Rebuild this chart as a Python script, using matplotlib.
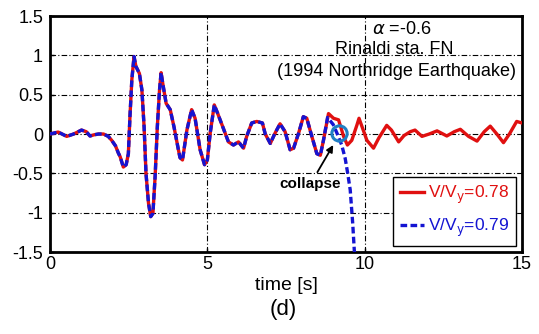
import matplotlib
matplotlib.use("Agg")
import matplotlib.pyplot as plt

plt.rcParams['font.family'] = ['Liberation Sans', 'DejaVu Sans']
plt.rcParams['mathtext.fontset'] = 'dejavusans'

# common part (both responses identical until ~8.7 s)
t_common = [0.0, 0.26, 0.53, 0.75, 1.0, 1.15, 1.27, 1.4, 1.54, 1.7, 1.85, 1.96, 2.08, 2.17,
            2.23, 2.33, 2.42, 2.49, 2.54, 2.60, 2.67, 2.73, 2.84, 2.92, 2.99, 3.05, 3.13,
            3.20, 3.27, 3.34, 3.41, 3.48, 3.53, 3.58, 3.69, 3.82, 3.94, 4.08, 4.13, 4.21,
            4.35, 4.5, 4.61, 4.77, 4.91, 5.0, 5.09, 5.22, 5.33, 5.51, 5.67, 5.83, 5.99,
            6.15, 6.25, 6.41, 6.57, 6.75, 6.84, 7.0, 7.15, 7.31, 7.47, 7.63, 7.74, 7.9,
            8.05, 8.16, 8.32, 8.48, 8.59, 8.69]
v_common = [0.0, 0.025, -0.03, 0.0, 0.05, 0.03, -0.025, -0.01, 0.0, 0.0, -0.03, -0.08, -0.15, -0.24,
            -0.29, -0.42, -0.39, -0.25, 0.22, 0.69, 0.985, 0.86, 0.77, 0.56, 0.09, -0.5, -0.88,
            -1.05, -1.01, -0.54, 0.09, 0.56, 0.78, 0.65, 0.39, 0.31, 0.09, -0.2, -0.3, -0.33,
            0.05, 0.31, 0.2, -0.2, -0.39, -0.33, 0.01, 0.37, 0.26, 0.07, -0.1, -0.14, -0.1,
            -0.18, -0.03, 0.14, 0.16, 0.14, 0.0, -0.12, 0.01, 0.13, 0.03, -0.2, -0.18, 0.01,
            0.22, 0.2, -0.03, -0.25, -0.27, -0.08]

# V/Vy = 0.78 (survives)
t_red = t_common + [8.85, 9.01, 9.17, 9.33, 9.45, 9.59, 9.75, 9.82, 10.07, 10.28, 10.45, 10.7,
                    10.85, 11.08, 11.25, 11.45, 11.6, 11.82, 12.05, 12.3, 12.61, 12.85, 13.04,
                    13.3, 13.57, 13.8, 13.99, 14.2, 14.41, 14.6, 14.83, 15.0]
v_red = v_common + [0.26, 0.2, 0.18, -0.03, -0.14, -0.08, 0.11, 0.2, -0.08, -0.18, -0.05, 0.11,
                    0.05, -0.1, -0.02, 0.03, 0.05, -0.03, 0.0, 0.04, -0.025, 0.03, 0.06,
                    -0.03, -0.09, 0.03, 0.1, 0.0, -0.11, 0.0, 0.16, 0.14]

# V/Vy = 0.79 (collapses)
t_blue = t_common + [8.82, 9.0, 9.12, 9.27, 9.38, 9.46, 9.54, 9.62, 9.67, 9.7]
v_blue = v_common + [0.21, 0.12, 0.01, -0.14, -0.31, -0.5, -0.71, -1.14, -1.48, -1.6]

collapse_t, collapse_v = 9.17, 0.01
xticks = [0, 5, 10, 15]
yticks = [-1.5, -1, -0.5, 0, 0.5, 1, 1.5]
yticklabels = ['-1.5', '-1', '-0.5', '0', '0.5', '1', '1.5']

fig = plt.figure(figsize=(5.39, 3.34), dpi=100)
ax = fig.add_axes([0.0928, 0.2455, 0.8757, 0.7065])

red = '#e01010'
blue = '#1414d2'
ax.plot(t_red, v_red, color=red, lw=2.4, solid_joinstyle='round', label=r'V/V$_{\mathrm{y}}$=0.78', zorder=3)
ax.plot(t_blue, v_blue, color=blue, lw=2.4, dashes=(2.0, 1.0), label=r'V/V$_{\mathrm{y}}$=0.79', zorder=4)

ax.plot([collapse_t], [collapse_v], marker='o', ms=11, mfc='none', mec='#1f7fc4', mew=2.2, zorder=5)
ax.annotate('collapse', xy=(9.0, -0.14), xytext=(8.27, -0.64), ha='center', va='center',
            fontsize=11, fontweight='bold',
            arrowprops=dict(arrowstyle='-|>', color='black', lw=1.3, mutation_scale=10,
                            shrinkA=2, shrinkB=0))

ax.text(11.18, 1.33, r'$\alpha$ =-0.6', ha='center', va='center', fontsize=13)
ax.text(10.95, 1.07, 'Rinaldi sta. FN', ha='center', va='center', fontsize=13)
ax.text(11.0, 0.80, '(1994 Northridge Earthquake)', ha='center', va='center', fontsize=13)

ax.set_xlim(0, 15)
ax.set_ylim(-1.5, 1.5)
ax.set_xticks(xticks)
ax.set_yticks(yticks)
ax.set_yticklabels(yticklabels)
ax.tick_params(direction='in', length=3, width=1, labelsize=13, pad=5)
ax.tick_params(axis='x', pad=3)
ax.grid(True, color='black', lw=0.8, linestyle=(0, (5, 2, 1, 2)))
for s in ax.spines.values():
    s.set_linewidth(2)

ax.set_xlabel('time [s]', fontsize=14, labelpad=3)
fig.text(0.525, 0.072, '(d)', ha='center', va='center', fontsize=16)

leg = ax.legend(loc='lower right', fontsize=12.5, fancybox=False, framealpha=1,
                edgecolor='black', handlelength=1.4, handletextpad=0.2,
                borderaxespad=0.35, labelspacing=0.6, borderpad=0.4)
leg.get_frame().set_linewidth(1.0)
for txt, c in zip(leg.get_texts(), [red, blue]):
    txt.set_color(c)

fig.savefig('out.png', dpi=100)
